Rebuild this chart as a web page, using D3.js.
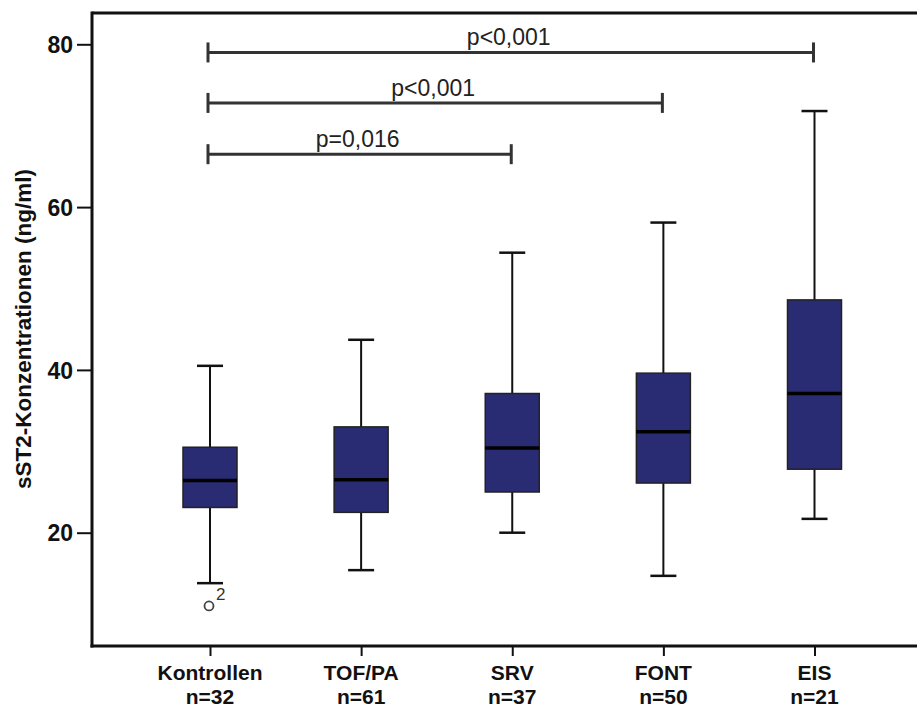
<!DOCTYPE html>
<html>
<head>
<meta charset="utf-8">
<script src="https://cdn.jsdelivr.net/npm/d3@7"></script>
<style>
  html, body { margin: 0; padding: 0; background: #fff; }
  svg { display: block; }
  text { font-family: "Liberation Sans", Arial, sans-serif; }
</style>
</head>
<body>
<svg id="chart" width="917" height="709"></svg>
<script>
// ---- data ----
const categories = ["Kontrollen", "TOF/PA", "SRV", "FONT", "EIS"];
const nLabels = ["n=32", "n=61", "n=37", "n=50", "n=21"];
const whiskerLow = [13.8, 15.4, 20.0, 14.7, 21.7];
const q1 = [23.1, 22.5, 25.0, 26.1, 27.8];
const median = [26.4, 26.5, 30.4, 32.4, 37.1];
const q3 = [30.5, 33.0, 37.1, 39.6, 48.6];
const whiskerHigh = [40.5, 43.7, 54.4, 58.1, 71.8];
const outliers = [{ category: "Kontrollen", value: 11.0, label: "2" }];
const yTicks = [20, 40, 60, 80];
const comparisons = [
  { from: "Kontrollen", to: "EIS", level: 79.0, label: "p<0,001" },
  { from: "Kontrollen", to: "FONT", level: 72.8, label: "p<0,001" },
  { from: "Kontrollen", to: "SRV", level: 66.5, label: "p=0,016" }
];
const yTitle = "sST2-Konzentrationen (ng/ml)";

// ---- layout ----
const svg = d3.select("#chart");
const frame = { left: 92, right: 917, top: 13, bottom: 646 };
const boxFill = "#2a2c73";

const x = d3.scalePoint().domain(categories).range([210, 814.5]);
const y = d3.scaleLinear().domain([20, 80]).range([532.7, 44.3]);

const boxW = 54, capW = 26;

const data = categories.map((c, i) => ({
  c, n: nLabels[i], lo: whiskerLow[i], q1: q1[i], med: median[i], q3: q3[i], hi: whiskerHigh[i]
}));

// frame: top, left, bottom
svg.append("line").attr("x1", frame.left).attr("x2", frame.right)
  .attr("y1", frame.top).attr("y2", frame.top)
  .attr("stroke", "#111").attr("stroke-width", 3);

// y axis
const yAxis = d3.axisLeft(y).tickValues(yTicks).tickSize(15).tickPadding(4).tickFormat(d3.format("d"));
const gy = svg.append("g").attr("transform", `translate(${frame.left},0)`).call(yAxis);
gy.select(".domain").remove();
gy.selectAll(".tick line").attr("stroke", "#111").attr("stroke-width", 2);
gy.selectAll(".tick text").attr("font-size", 23).attr("font-weight", "bold")
  .attr("fill", "#111").attr("dy", "0.36em").attr("x", -19);

svg.append("line").attr("x1", frame.left).attr("x2", frame.left)
  .attr("y1", frame.top - 1.5).attr("y2", frame.bottom + 1.5)
  .attr("stroke", "#111").attr("stroke-width", 3);

// x axis
const xAxis = d3.axisBottom(x).tickSize(10).tickFormat("");
const gx = svg.append("g").attr("transform", `translate(0,${frame.bottom})`).call(xAxis);
gx.select(".domain").remove();
gx.selectAll(".tick line").attr("stroke", "#111").attr("stroke-width", 2);
svg.append("line").attr("x1", frame.left - 1.5).attr("x2", frame.right)
  .attr("y1", frame.bottom).attr("y2", frame.bottom)
  .attr("stroke", "#111").attr("stroke-width", 3);

const labels = svg.append("g");
data.forEach(d => {
  labels.append("text").attr("text-anchor", "middle")
    .attr("font-size", 21).attr("font-weight", "bold").attr("fill", "#111")
    .attr("x", x(d.c)).attr("y", 680).text(d.c);
  labels.append("text").attr("text-anchor", "middle")
    .attr("font-size", 21).attr("font-weight", "bold").attr("fill", "#111")
    .attr("x", x(d.c)).attr("y", 704).text(d.n);
});

// y title
svg.append("text")
  .attr("transform", "translate(31,329) rotate(-90)")
  .attr("text-anchor", "middle").attr("font-size", 22.5).attr("font-weight", "bold")
  .attr("fill", "#111").text(yTitle);

// boxes
const g = svg.append("g");
const box = g.selectAll("g.box").data(data).join("g").attr("class", "box");
box.append("line").attr("x1", d => x(d.c)).attr("x2", d => x(d.c))
  .attr("y1", d => y(d.hi)).attr("y2", d => y(d.q3)).attr("stroke", "#111").attr("stroke-width", 2);
box.append("line").attr("x1", d => x(d.c)).attr("x2", d => x(d.c))
  .attr("y1", d => y(d.q1)).attr("y2", d => y(d.lo)).attr("stroke", "#111").attr("stroke-width", 2);
box.append("line").attr("x1", d => x(d.c) - capW / 2).attr("x2", d => x(d.c) + capW / 2)
  .attr("y1", d => y(d.hi)).attr("y2", d => y(d.hi)).attr("stroke", "#111").attr("stroke-width", 2.5);
box.append("line").attr("x1", d => x(d.c) - capW / 2).attr("x2", d => x(d.c) + capW / 2)
  .attr("y1", d => y(d.lo)).attr("y2", d => y(d.lo)).attr("stroke", "#111").attr("stroke-width", 2.5);
box.append("rect").attr("x", d => x(d.c) - boxW / 2).attr("width", boxW)
  .attr("y", d => y(d.q3)).attr("height", d => y(d.q1) - y(d.q3))
  .attr("fill", boxFill).attr("stroke", "#222").attr("stroke-width", 1.5);
box.append("line").attr("x1", d => x(d.c) - boxW / 2).attr("x2", d => x(d.c) + boxW / 2)
  .attr("y1", d => y(d.med)).attr("y2", d => y(d.med)).attr("stroke", "#000").attr("stroke-width", 3.5);

// outliers
outliers.forEach(o => {
  g.append("circle").attr("cx", x(o.category) - 1).attr("cy", y(o.value)).attr("r", 4.5)
    .attr("fill", "#fff").attr("stroke", "#444").attr("stroke-width", 1.8);
  g.append("text").attr("x", x(o.category) + 6).attr("y", y(o.value) - 6)
    .attr("font-size", 17).attr("fill", "#333").text(o.label);
});

// comparison brackets
const cg = svg.append("g");
comparisons.forEach(c => {
  const x1 = x(c.from) - 2, x2 = x(c.to) - 1, yy = y(c.level);
  cg.append("line").attr("x1", x1).attr("x2", x2).attr("y1", yy).attr("y2", yy)
    .attr("stroke", "#333").attr("stroke-width", 3);
  [x1, x2].forEach(xx => cg.append("line").attr("x1", xx).attr("x2", xx)
    .attr("y1", yy - 10).attr("y2", yy + 10).attr("stroke", "#333").attr("stroke-width", 3));
  cg.append("text").attr("x", (x1 + x2) / 2 - 2).attr("y", yy - 7)
    .attr("text-anchor", "middle").attr("font-size", 23).attr("fill", "#222").text(c.label);
});
</script>
</body>
</html>
